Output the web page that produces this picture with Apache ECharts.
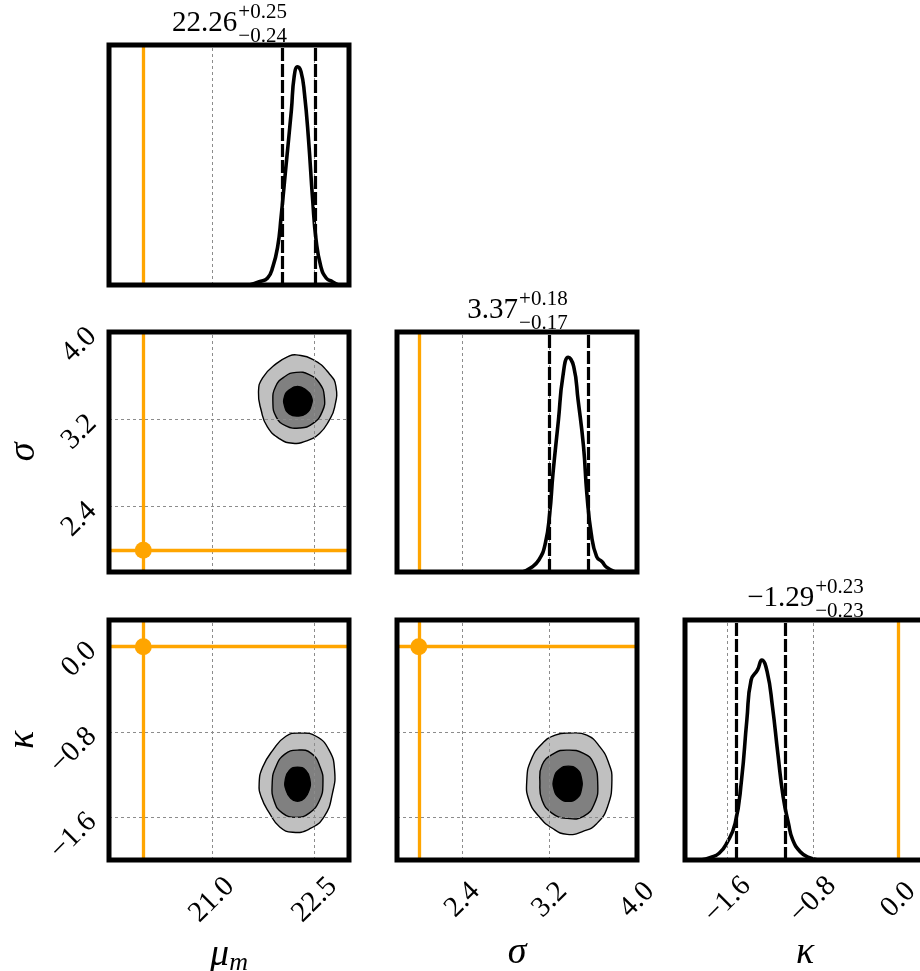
<!DOCTYPE html>
<html><head><meta charset="utf-8">
<script src="https://cdn.jsdelivr.net/npm/echarts@6/dist/echarts.min.js"></script>
<style>html,body{margin:0;padding:0;background:#fff}#c{width:920px;height:971px}</style>
</head><body><div id="c"></div>
<script>
// ---------------- data ----------------
const muRange = [19.5, 23.0];
const sigmaRange = [1.8, 4.0];
const kappaRange = [-2.0, 0.25];
const muTicks = [21.0, 22.5];
const sigmaTicks = [2.4, 3.2, 4.0];
const kappaTicks = [-1.6, -0.8, 0.0];
const truthValues = [20.0, 2.0, 0.0];
const medians = [22.26, 3.37, -1.29];
const errPlus = [0.25, 0.18, 0.23];
const errMinus = [0.24, 0.17, 0.23];

// 1D marginal densities
const muKdeX = [21.55, 21.69, 21.81, 21.89, 21.96, 22.01, 22.08, 22.16, 22.20, 22.25, 22.30, 22.35, 22.41, 22.47, 22.52, 22.59, 22.67, 22.76, 22.85];
const muKdeY = [0.0, 0.015, 0.031, 0.084, 0.176, 0.313, 0.542, 0.802, 0.955, 1.0, 0.978, 0.879, 0.665, 0.39, 0.206, 0.084, 0.031, 0.015, 0.0];
const sigmaKdeX = [2.95, 3.02, 3.10, 3.16, 3.20, 3.23, 3.28, 3.32, 3.37, 3.42, 3.46, 3.51, 3.54, 3.58, 3.63, 3.68, 3.72, 3.80];
const sigmaKdeY = [0.0, 0.017, 0.055, 0.132, 0.269, 0.452, 0.697, 0.895, 0.984, 0.941, 0.788, 0.574, 0.361, 0.177, 0.070, 0.047, 0.022, 0.0];
const kappaKdeX = [-1.85, -1.76, -1.68, -1.61, -1.53, -1.47, -1.42, -1.38, -1.32, -1.28, -1.23, -1.18, -1.13, -1.08, -1.03, -0.99, -0.92, -0.84, -0.75];
const kappaKdeY = [0.0, 0.012, 0.031, 0.076, 0.168, 0.367, 0.642, 0.825, 0.871, 0.917, 0.863, 0.703, 0.489, 0.29, 0.168, 0.092, 0.038, 0.012, 0.0];

// 2D contours (mu vs sigma)
const muSigmaOuterMu = [22.23, 22.47, 22.71, 22.81, 22.79, 22.71, 22.57, 22.37, 22.18, 21.99, 21.81, 21.72, 21.68, 21.74, 21.94, 22.13];
const muSigmaOuterSigma = [3.79, 3.75, 3.62, 3.50, 3.31, 3.19, 3.07, 3.00, 2.98, 3.02, 3.13, 3.28, 3.45, 3.58, 3.71, 3.78];
const muSigmaMidMu = [22.23, 22.42, 22.57, 22.64, 22.61, 22.47, 22.28, 22.08, 21.94, 21.89, 21.93, 22.06];
const muSigmaMidSigma = [3.63, 3.61, 3.53, 3.41, 3.27, 3.16, 3.12, 3.14, 3.22, 3.36, 3.50, 3.59];
const muSigmaInnerMu = [22.25, 22.37, 22.45, 22.45, 22.37, 22.25, 22.13, 22.06, 22.06, 22.13];
const muSigmaInnerSigma = [3.50, 3.47, 3.41, 3.33, 3.25, 3.23, 3.25, 3.32, 3.41, 3.47];
// (mu vs kappa)
const muKappaOuterMu = [22.28, 22.52, 22.71, 22.79, 22.76, 22.64, 22.42, 22.18, 21.99, 21.84, 21.72, 21.69, 21.74, 21.89, 22.08];
const muKappaOuterKappa = [-0.81, -0.84, -0.97, -1.16, -1.37, -1.59, -1.71, -1.74, -1.69, -1.56, -1.41, -1.28, -1.13, -0.97, -0.84];
const muKappaMidMu = [22.25, 22.45, 22.58, 22.62, 22.57, 22.42, 22.23, 22.03, 21.91, 21.88, 21.93, 22.06];
const muKappaMidKappa = [-0.97, -1.00, -1.13, -1.28, -1.44, -1.56, -1.60, -1.56, -1.45, -1.28, -1.13, -1.01];
const muKappaInnerMu = [22.25, 22.37, 22.43, 22.42, 22.35, 22.25, 22.15, 22.08, 22.07, 22.13];
const muKappaInnerKappa = [-1.13, -1.16, -1.25, -1.34, -1.42, -1.45, -1.42, -1.34, -1.25, -1.16];
// (sigma vs kappa)
const sigmaKappaOuterSigma = [3.38, 3.54, 3.66, 3.74, 3.77, 3.73, 3.63, 3.51, 3.36, 3.22, 3.10, 3.01, 2.99, 3.03, 3.13, 3.25];
const sigmaKappaOuterKappa = [-0.81, -0.83, -0.94, -1.09, -1.25, -1.50, -1.66, -1.73, -1.76, -1.70, -1.59, -1.44, -1.25, -1.06, -0.91, -0.83];
const sigmaKappaMidSigma = [3.36, 3.51, 3.60, 3.64, 3.61, 3.51, 3.36, 3.22, 3.13, 3.11, 3.13, 3.24];
const sigmaKappaMidKappa = [-0.97, -1.00, -1.09, -1.28, -1.47, -1.59, -1.61, -1.56, -1.44, -1.28, -1.11, -1.00];
const sigmaKappaInnerSigma = [3.37, 3.45, 3.49, 3.49, 3.45, 3.37, 3.29, 3.24, 3.24, 3.29];
const sigmaKappaInnerKappa = [-1.12, -1.15, -1.23, -1.34, -1.42, -1.45, -1.42, -1.34, -1.23, -1.15];

// ---------------- layout / style ----------------
const FONT = "'Liberation Serif', 'DejaVu Serif', serif";
const ORANGE = '#FFA500';
const levelColors = ['#c0c0c0', '#808080', '#000000'];
const colLeft = [109, 397, 685], rowTop = [45, 332, 620], SIZE = 240;
const TICK_FS = 29, NAME_FS = 38, MAIN_FS = 29, SUP_FS = 21;
const vars = [
  { range: muRange, ticks: muTicks, kx: muKdeX, ky: muKdeY },
  { range: sigmaRange, ticks: sigmaTicks, kx: sigmaKdeX, ky: sigmaKdeY },
  { range: kappaRange, ticks: kappaTicks, kx: kappaKdeX, ky: kappaKdeY }
];
const contours = {
  '1,0': [[muSigmaOuterMu, muSigmaOuterSigma], [muSigmaMidMu, muSigmaMidSigma], [muSigmaInnerMu, muSigmaInnerSigma]],
  '2,0': [[muKappaOuterMu, muKappaOuterKappa], [muKappaMidMu, muKappaMidKappa], [muKappaInnerMu, muKappaInnerKappa]],
  '2,1': [[sigmaKappaOuterSigma, sigmaKappaOuterKappa], [sigmaKappaMidSigma, sigmaKappaMidKappa], [sigmaKappaInnerSigma, sigmaKappaInnerKappa]]
};
const panels = [[0,0],[1,0],[1,1],[2,0],[2,1],[2,2]];
const fmt = v => (v < -1e-9 ? '\u2212' : '') + Math.abs(v).toFixed(1);

const xNames = [
  { name: '{a|\u03bc}{b|m}', rich: { a: { fontSize: NAME_FS, fontStyle: 'italic', fontFamily: FONT }, b: { fontSize: 26, fontStyle: 'italic', fontFamily: FONT, padding: [16, 0, 0, 0] } } },
  { name: '\u03c3', rich: null },
  { name: '\u03ba', rich: null }
];

const grids = panels.map(([r, c]) => ({
  left: colLeft[c], top: rowTop[r], width: SIZE, height: SIZE,
  show: true, borderColor: '#000', borderWidth: 5, backgroundColor: 'transparent',
  z: 10, containLabel: false, outerBoundsMode: 'none'
}));

const xAxes = panels.map(([r, c], i) => {
  const a = {
    gridIndex: i, type: 'value', min: vars[c].range[0], max: vars[c].range[1],
    axisLine: { show: false }, axisTick: { show: false }, splitLine: { show: false },
    axisLabel: { show: false }
  };
  if (r === 2) {
    a.axisLabel = {
      show: true, customValues: vars[c].ticks, formatter: fmt, rotate: 45,
      align: 'center', verticalAlign: 'middle', margin: 40,
      fontSize: TICK_FS, fontFamily: FONT, color: '#000', hideOverlap: false
    };
    a.name = xNames[c].name;
    a.nameLocation = 'middle';
    a.nameGap = 74;
    a.nameTextStyle = { fontSize: NAME_FS, fontStyle: 'italic', fontFamily: FONT, color: '#000' };
    if (xNames[c].rich) a.nameTextStyle.rich = xNames[c].rich;
  }
  return a;
});

const yAxes = panels.map(([r, c], i) => {
  if (r === c) return { gridIndex: i, type: 'value', min: 0, max: 1.1, show: false };
  const a = {
    gridIndex: i, type: 'value', min: vars[r].range[0], max: vars[r].range[1],
    axisLine: { show: false }, axisTick: { show: false }, splitLine: { show: false },
    axisLabel: { show: false }
  };
  if (c === 0) {
    a.axisLabel = {
      show: true, customValues: vars[r].ticks, formatter: fmt, rotate: 45,
      align: 'right', verticalAlign: 'middle', margin: 17,
      fontSize: TICK_FS, fontFamily: FONT, color: '#000', hideOverlap: false
    };
    a.name = xNames[r].name;
    a.nameLocation = 'middle';
    a.nameRotate = 90;
    a.nameGap = 66;
    a.nameTextStyle = { fontSize: NAME_FS, fontStyle: 'italic', fontFamily: FONT, color: '#000' };
  }
  return a;
});

const gridLine = { color: '#8c8c8c', width: 1, type: [3, 3] };
const series = [];
panels.forEach(([r, c], i) => {
  const ax = { xAxisIndex: i, yAxisIndex: i };
  const mlBase = { symbol: ['none', 'none'], silent: true, label: { show: false }, animation: false };
  if (r === c) {
    const v = c;
    series.push(Object.assign({
      type: 'line', data: [], z: 1,
      markLine: Object.assign({}, mlBase, {
        data: vars[v].ticks.map(t => ({ xAxis: t, lineStyle: gridLine }))
      })
    }, ax));
    series.push(Object.assign({
      type: 'line', data: [], z: 2,
      markLine: Object.assign({}, mlBase, {
        data: [{ xAxis: truthValues[v], lineStyle: { color: ORANGE, width: 3.3, type: 'solid' } }]
      })
    }, ax));
    series.push(Object.assign({
      type: 'line', data: vars[v].kx.map((x, k) => [x, vars[v].ky[k]]),
      showSymbol: false, symbol: 'none', smooth: 0.5,
      lineStyle: { color: '#000', width: 3.6, cap: 'round', join: 'round' }, z: 4, silent: true
    }, ax));
    series.push(Object.assign({
      type: 'line', data: [], z: 5,
      markLine: Object.assign({}, mlBase, {
        data: [medians[v] - errMinus[v], medians[v] + errPlus[v]].map(q => ({
          xAxis: q, lineStyle: { color: '#000', width: 3.2, type: [13, 3] }
        }))
      })
    }, ax));
  } else {
    series.push(Object.assign({
      type: 'line', data: [], z: 1,
      markLine: Object.assign({}, mlBase, {
        data: vars[c].ticks.map(t => ({ xAxis: t, lineStyle: gridLine }))
          .concat(vars[r].ticks.map(t => ({ yAxis: t, lineStyle: gridLine })))
      })
    }, ax));
    const levels = contours[r + ',' + c];
    series.push(Object.assign({
      type: 'custom', z: 3, silent: true,
      data: levels.map((lv, k) => [lv[0][0], lv[1][0], k]),
      renderItem: (params, api) => {
        const lv = levels[params.dataIndex];
        const pts = lv[0].map((x, k) => api.coord([x, lv[1][k]]));
        return {
          type: 'polygon',
          shape: { points: pts, smooth: 0.5 },
          style: { fill: levelColors[params.dataIndex], stroke: '#000', lineWidth: 1.4 }
        };
      }
    }, ax));
    series.push(Object.assign({
      type: 'line', data: [], z: 4,
      markLine: Object.assign({}, mlBase, {
        data: [
          { xAxis: truthValues[c], lineStyle: { color: ORANGE, width: 3.3, type: 'solid' } },
          { yAxis: truthValues[r], lineStyle: { color: ORANGE, width: 3.3, type: 'solid' } }
        ]
      })
    }, ax));
    series.push(Object.assign({
      type: 'scatter', data: [[truthValues[c], truthValues[r]]], symbol: 'circle', symbolSize: 17,
      itemStyle: { color: ORANGE, opacity: 1 }, z: 5, silent: true
    }, ax));
  }
});

// titles above diagonal panels
const ctx = document.createElement('canvas').getContext('2d');
function measure(t, size) { ctx.font = size + 'px ' + FONT; return ctx.measureText(t).width; }
const graphic = [];
[0, 1, 2].forEach(v => {
  const main = (medians[v] < 0 ? '\u2212' : '') + Math.abs(medians[v]).toFixed(2);
  const sup = '+' + errPlus[v].toFixed(2);
  const sub = '\u2212' + errMinus[v].toFixed(2);
  const wm = measure(main, MAIN_FS);
  const ws = Math.max(measure(sup, SUP_FS), measure(sub, SUP_FS));
  const center = colLeft[v] + SIZE / 2;
  const top = rowTop[v];
  const x0 = center - (wm + ws) / 2;
  const st = (text, size) => ({ text, fontSize: size, fontFamily: FONT, fill: '#000', align: 'left', verticalAlign: 'middle', textAlign: 'left', textVerticalAlign: 'middle' });
  graphic.push({ type: 'text', x: x0, y: top - 22, style: st(main, MAIN_FS), z: 1 });
  graphic.push({ type: 'text', x: x0 + wm + 1, y: top - 33, style: st(sup, SUP_FS), z: 1 });
  graphic.push({ type: 'text', x: x0 + wm + 1, y: top - 9, style: st(sub, SUP_FS), z: 1 });
});

const chart = echarts.init(document.getElementById('c'), null, { renderer: 'canvas' });
chart.setOption({
  backgroundColor: '#fff',
  animation: false,
  grid: grids,
  xAxis: xAxes,
  yAxis: yAxes,
  series: series,
  graphic: graphic
});
</script></body></html>
